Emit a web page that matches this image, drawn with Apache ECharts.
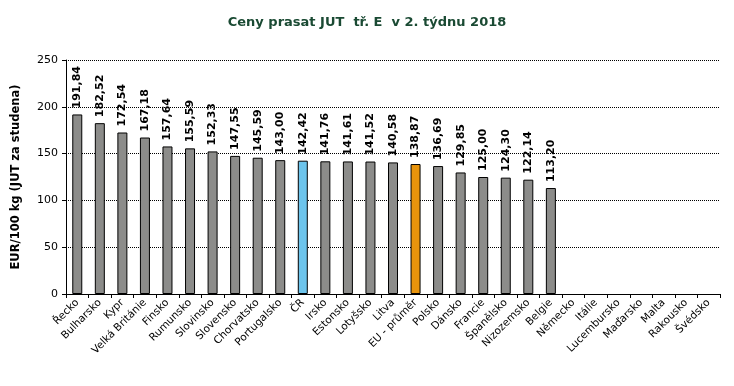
<!DOCTYPE html>
<html><head><meta charset="utf-8">
<script src="https://cdn.jsdelivr.net/npm/echarts@6/dist/echarts.min.js"></script>
<style>html,body{margin:0;padding:0;background:#fff}#c{width:734px;height:386px}</style>
</head><body><div id="c"></div>
<script>
const categories = ["Řecko","Bulharsko","Kypr","Velká Británie","Finsko","Rumunsko","Slovinsko","Slovensko","Chorvatsko","Portugalsko","ČR","Irsko","Estonsko","Lotyšsko","Litva","EU - průměr","Polsko","Dánsko","Francie","Španělsko","Nizozemsko","Belgie","Německo","Itálie","Lucembursko","Maďarsko","Malta","Rakousko","Švédsko"];
const values = [191.84,182.52,172.54,167.18,157.64,155.59,152.33,147.55,145.59,143.00,142.42,141.76,141.61,141.52,140.58,138.87,136.69,129.85,125.00,124.30,122.14,113.20,null,null,null,null,null,null,null];
const yTicks = [0,50,100,150,200,250];
const titleText = "Ceny prasat JUT  tř. E  v 2. týdnu 2018";
const yName = "EUR/100 kg (JUT za studena)";

const colorFor = c => c === "ČR" ? "#6cc4ec" : (c === "EU - průměr" ? "#e8940c" : "#8c8c8a");
const font = "Verdana, 'DejaVu Sans', sans-serif";
const chart = echarts.init(document.getElementById('c'));
chart.setOption({
  animation:false,
  backgroundColor:'#fff',
  title:{text:titleText,left:'center',top:11,textStyle:{fontFamily:"Tahoma, 'DejaVu Sans', sans-serif",fontSize:13,fontWeight:'bold',color:'#1a4a33'}},
  grid:{left:66,right:14,top:60,bottom:92,containLabel:false},
  xAxis:{type:'category',data:categories,boundaryGap:true,
    axisLine:{lineStyle:{color:'#000',width:1}},
    axisTick:{show:true,length:4,lineStyle:{color:'#000'},alignWithLabel:false,interval:0},
    axisLabel:{interval:0,rotate:45,fontFamily:font,fontSize:10.5,color:'#000',margin:7}},
  yAxis:{type:'value',min:yTicks[0],max:yTicks[yTicks.length-1],interval:50,
    name:yName,nameLocation:'middle',nameGap:44,nameRotate:90,
    nameTextStyle:{fontFamily:font,fontSize:11.5,fontWeight:'bold',color:'#000'},
    axisLine:{show:true,lineStyle:{color:'#000'}},
    axisTick:{show:true,length:4,lineStyle:{color:'#000'}},
    axisLabel:{fontFamily:font,fontSize:11,color:'#000',margin:8},
    splitLine:{show:true,lineStyle:{color:'#000',type:[1,1],width:1}}},
  series:[{type:'bar',barWidth:10,
    data:values.map((v,i)=>({value:v,itemStyle:{color:colorFor(categories[i]),borderColor:'#000',borderWidth:1}})),
    label:{show:true,position:'top',rotate:90,align:'left',verticalAlign:'middle',distance:6,
      fontFamily:font,fontSize:11,fontWeight:'bold',color:'#000',
      formatter:p=>p.value==null?'':p.value.toFixed(2).replace('.',',')}}]
});
</script></body></html>
